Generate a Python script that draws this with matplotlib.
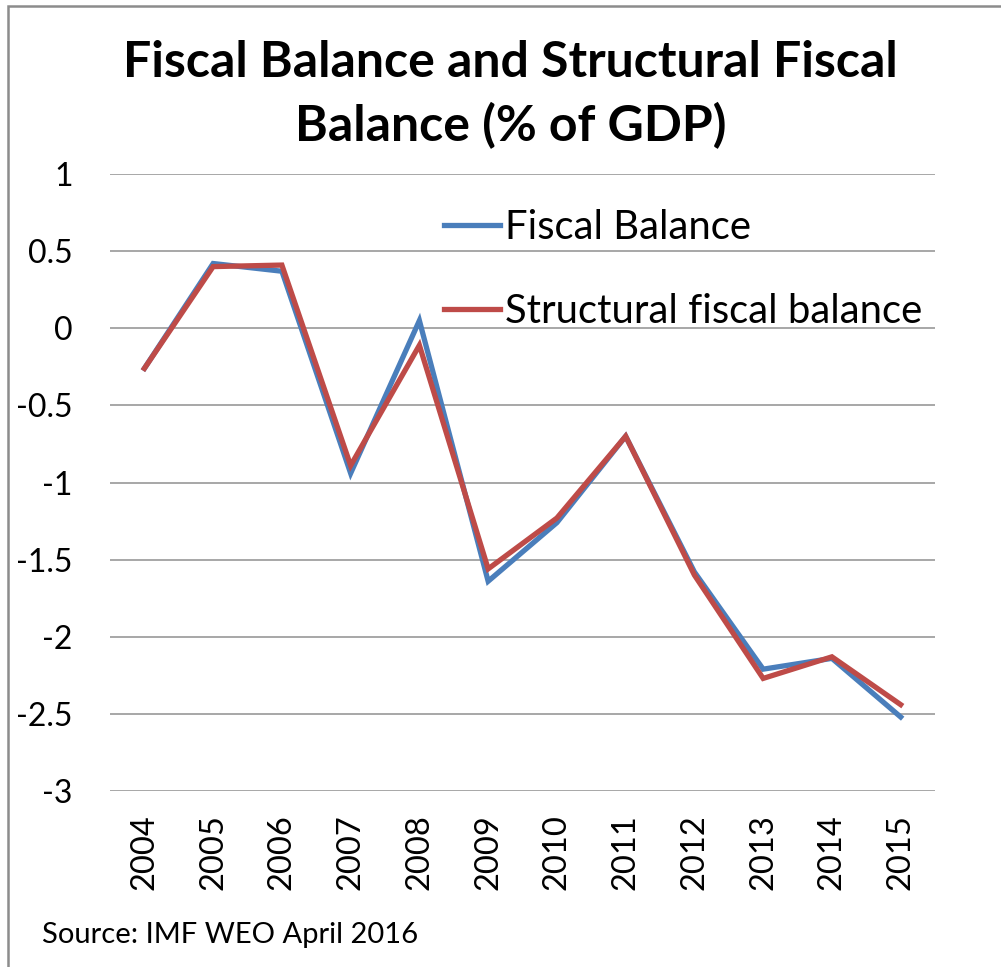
import matplotlib
matplotlib.use("Agg")
import matplotlib.pyplot as plt
from matplotlib.patches import Rectangle

years = ["2004", "2005", "2006", "2007", "2008", "2009",
         "2010", "2011", "2012", "2013", "2014", "2015"]
fiscal_balance = [-0.26, 0.42, 0.37, -0.94, 0.05, -1.64,
                  -1.26, -0.70, -1.58, -2.21, -2.14, -2.52]
structural_balance = [-0.26, 0.40, 0.41, -0.89, -0.11, -1.56,
                      -1.23, -0.70, -1.60, -2.27, -2.13, -2.44]
y_ticks = [1, 0.5, 0, -0.5, -1, -1.5, -2, -2.5, -3]

plt.rcParams["font.family"] = ["Lato", "DejaVu Sans"]

fig = plt.figure(figsize=(10.01, 9.67), dpi=100)
ax = fig.add_axes([0.1099, 0.182, 0.8242, 0.638])

x = range(len(years))
ax.plot(x, fiscal_balance, color="#4A7EBB", lw=3.8, label="Fiscal Balance",
        solid_joinstyle="miter", zorder=3)
ax.plot(x, structural_balance, color="#BE4B48", lw=3.8,
        label="Structural fiscal balance", solid_joinstyle="miter", zorder=4)

ax.set_xlim(-0.5, len(years) - 0.5)
ax.set_ylim(-3, 1)
ax.set_yticks(y_ticks)
ax.set_yticklabels([f"{v:g}" for v in y_ticks])
ax.set_xticks(list(x))
ax.set_xticklabels(years, rotation=90)
ax.tick_params(axis="y", length=0, pad=27, labelsize=23)
ax.tick_params(axis="x", length=0, pad=17, labelsize=23.5)
ax.grid(axis="y", color="#A0A0A0", lw=1.3)
ax.set_axisbelow(True)
for s in ax.spines.values():
    s.set_visible(False)

ax.legend(loc="upper left", bbox_to_anchor=(0.444, 0.784), bbox_transform=fig.transFigure,
          frameon=False, fontsize=28.8, handlelength=1.4, handletextpad=0.12,
          labelspacing=1.17, borderpad=0, borderaxespad=0)

fig.text(0.51, 0.902, "Fiscal Balance and Structural Fiscal\nBalance (% of GDP)",
         ha="center", va="center", fontsize=36, fontweight="bold", linespacing=1.43)
fig.text(0.042, 0.033, "Source: IMF WEO April 2016", fontsize=21, va="center")

# outer frame, left and top edges only visible
fig.patches.append(Rectangle((8 / 1001, -0.1), 1.2, 1 - 6 / 967 + 0.1,
                             transform=fig.transFigure, fill=False,
                             edgecolor="#8C8C8C", lw=1.8))

fig.savefig("out.png", dpi=100)
